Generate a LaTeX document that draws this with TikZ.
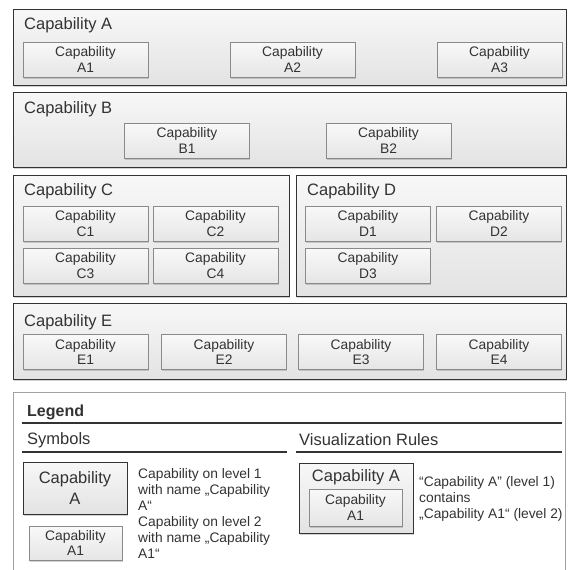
\documentclass[tikz,border=0pt]{standalone}
\usepackage{fontspec}
\setmainfont{Liberation Sans}
\usepackage{tikz}
\usetikzlibrary{shadows}
\definecolor{inkgray}{HTML}{333333}
\definecolor{rimgray}{HTML}{8A8A8A}
\tikzset{
  lvone/.style={draw=inkgray,line width=0.9pt,top color=gray!6,bottom color=gray!22,
    drop shadow={shadow xshift=0.6pt,shadow yshift=-1.6pt,opacity=0.35},
    anchor=north west,inner sep=0pt},
  lvtwo/.style={draw=rimgray,line width=0.8pt,top color=gray!5,bottom color=gray!20,
    drop shadow={shadow xshift=0.6pt,shadow yshift=-1.6pt,opacity=0.35},
    minimum width=125pt,minimum height=35pt,inner sep=0pt,align=center,
    text=inkgray,font=\fontsize{13.8}{15.5}\selectfont},
  onelabel/.style={anchor=west,inner sep=0pt,text=inkgray,font=\fontsize{16.5}{19.8}\selectfont},
  legtext/.style={anchor=west,inner sep=0pt,align=left,text=inkgray,font=\fontsize{13.8}{16}\selectfont},
  legrule/.style={line width=1.4pt,draw=inkgray}
}

\begin{document}
\begin{tikzpicture}[x=1pt,y=-1pt]
    \useasboundingbox[fill=white] (0,0) rectangle (568,570);
    % level 1 containers
    \node[lvone,minimum width=553pt,minimum height=76pt] (capA) at (13,9) {};
    \node[onelabel] (capAlbl) at (24,25) {Capability A};
    \node[lvtwo] (capA1) at (85.5,59.5) {Capability\\A1};
    \node[lvtwo] (capA2) at (292.5,59.5) {Capability\\A2};
    \node[lvtwo] (capA3) at (499.5,59.5) {Capability\\A3};

    \node[lvone,minimum width=553pt,minimum height=75pt] (capB) at (13,92) {};
    \node[onelabel] (capBlbl) at (24,109) {Capability B};
    \node[lvtwo] (capB1) at (187,140.5) {Capability\\B1};
    \node[lvtwo] (capB2) at (388.5,140.5) {Capability\\B2};

    \node[lvone,minimum width=276pt,minimum height=121pt] (capC) at (13,175) {};
    \node[onelabel] (capClbl) at (24,191) {Capability C};
    \node[lvtwo] (capC1) at (85.5,223.5) {Capability\\C1};
    \node[lvtwo] (capC2) at (215.5,223.5) {Capability\\C2};
    \node[lvtwo] (capC3) at (85.5,265.5) {Capability\\C3};
    \node[lvtwo] (capC4) at (215.5,265.5) {Capability\\C4};

    \node[lvone,minimum width=270pt,minimum height=121pt] (capD) at (296,175) {};
    \node[onelabel] (capDlbl) at (307,191) {Capability D};
    \node[lvtwo] (capD1) at (368,223.5) {Capability\\D1};
    \node[lvtwo] (capD2) at (499,223.5) {Capability\\D2};
    \node[lvtwo] (capD3) at (368,265.5) {Capability\\D3};

    \node[lvone,minimum width=553pt,minimum height=76pt] (capE) at (13,303) {};
    \node[onelabel] (capElbl) at (24,322) {Capability E};
    \node[lvtwo] (capE1) at (85.5,352) {Capability\\E1};
    \node[lvtwo] (capE2) at (224,352) {Capability\\E2};
    \node[lvtwo] (capE3) at (361,352) {Capability\\E3};
    \node[lvtwo] (capE4) at (499,352) {Capability\\E4};

    % legend
    \draw[draw=rimgray!80,line width=0.8pt,fill=white] (13,600) -- (13,392) -- (565,392) -- (565,600);
    \node[onelabel,font=\bfseries\fontsize{16}{19}\selectfont] (legend) at (27,412) {Legend};
    \draw[legrule] (22,423) -- (562,423);
    \node[onelabel] (symbols) at (27,440) {Symbols};
    \draw[legrule] (22,452) -- (287,452);
    \node[onelabel] (rules) at (299,440) {Visualization Rules};
    \draw[legrule] (296,452) -- (562,452);

    \node[lvone,anchor=center,minimum width=104pt,minimum height=52pt,align=center,
      text=inkgray,font=\fontsize{16.5}{21}\selectfont] (symone) at (75,488) {Capability\\A};
    \node[legtext] (symonetxt) at (138,489.5) {Capability on level 1\\with name „Capability\\A“};
    \node[lvtwo,minimum width=93pt,minimum height=34pt] (symtwo) at (75.5,543) {Capability\\A1};
    \node[legtext] (symtwotxt) at (138,537.5) {Capability on level 2\\with name „Capability\\A1“};

    \node[lvone,minimum width=114pt,minimum height=70pt] (ruleone) at (299,463) {};
    \node[onelabel,anchor=center] (ruleonelbl) at (356,477) {Capability A};
    \node[lvtwo,minimum width=93pt,minimum height=37pt] (ruletwo) at (355.5,507.5) {Capability\\A1};
    \node[legtext] (ruletxt) at (419,499) {“Capability A” (level 1)\\contains\\„Capability A1“ (level 2)};
\end{tikzpicture}
\end{document}
